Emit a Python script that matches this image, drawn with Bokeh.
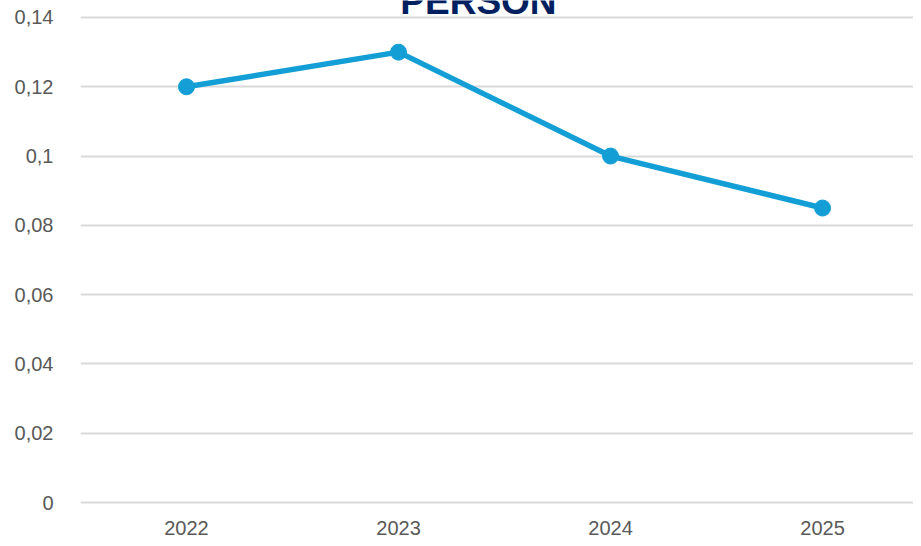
from bokeh.plotting import figure
from bokeh.models import Range1d, FixedTicker, Label
from bokeh.embed import file_html
from bokeh.resources import INLINE

years = ["2022", "2023", "2024", "2025"]
values = [0.12, 0.13, 0.10, 0.085]
y_ticks = [0, 0.02, 0.04, 0.06, 0.08, 0.10, 0.12, 0.14]
y_tick_labels = ["0", "0,02", "0,04", "0,06", "0,08", "0,1", "0,12", "0,14"]
title_text = "PERSON"

xs = list(range(len(years)))

p = figure(width=913, height=538, output_backend="svg", toolbar_location=None,
           x_range=Range1d(-0.5, 3.429), y_range=Range1d(-0.000577, 0.144907),
           min_border_left=80, min_border_right=0, min_border_top=0, min_border_bottom=34)
p.outline_line_color = None
p.background_fill_color = "white"
p.border_fill_color = "white"

p.xgrid.visible = False
p.ygrid.grid_line_color = "#d9d9d9"
p.ygrid.grid_line_width = 2
p.ygrid.ticker = FixedTicker(ticks=y_ticks)

p.yaxis.ticker = FixedTicker(ticks=y_ticks)
p.yaxis.major_label_overrides = {t: l for t, l in zip(y_ticks, y_tick_labels)}
p.xaxis.ticker = FixedTicker(ticks=xs)
p.xaxis.major_label_overrides = {x: yr for x, yr in zip(xs, years)}

for ax in (p.xaxis, p.yaxis):
    ax.axis_line_color = None
    ax.major_tick_line_color = None
    ax.minor_tick_line_color = None
    ax.major_label_text_font = "Liberation Sans"
    ax.major_label_text_font_size = "20px"
    ax.major_label_text_color = "#595959"
p.yaxis.major_label_standoff = 21
p.xaxis.major_label_standoff = 10

p.line(xs, values, line_color="#139fd6", line_width=5.5)
p.scatter(xs, values, size=16, fill_color="#139fd6", line_color="#139fd6")

p.add_layout(Label(x=1.377, y=0.1446, text=title_text, text_align="center",
                   text_baseline="alphabetic", text_font="Liberation Sans",
                   text_font_style="bold", text_font_size="37px", text_color="#002060"))

open("out.html", "w").write(file_html(p, INLINE))
